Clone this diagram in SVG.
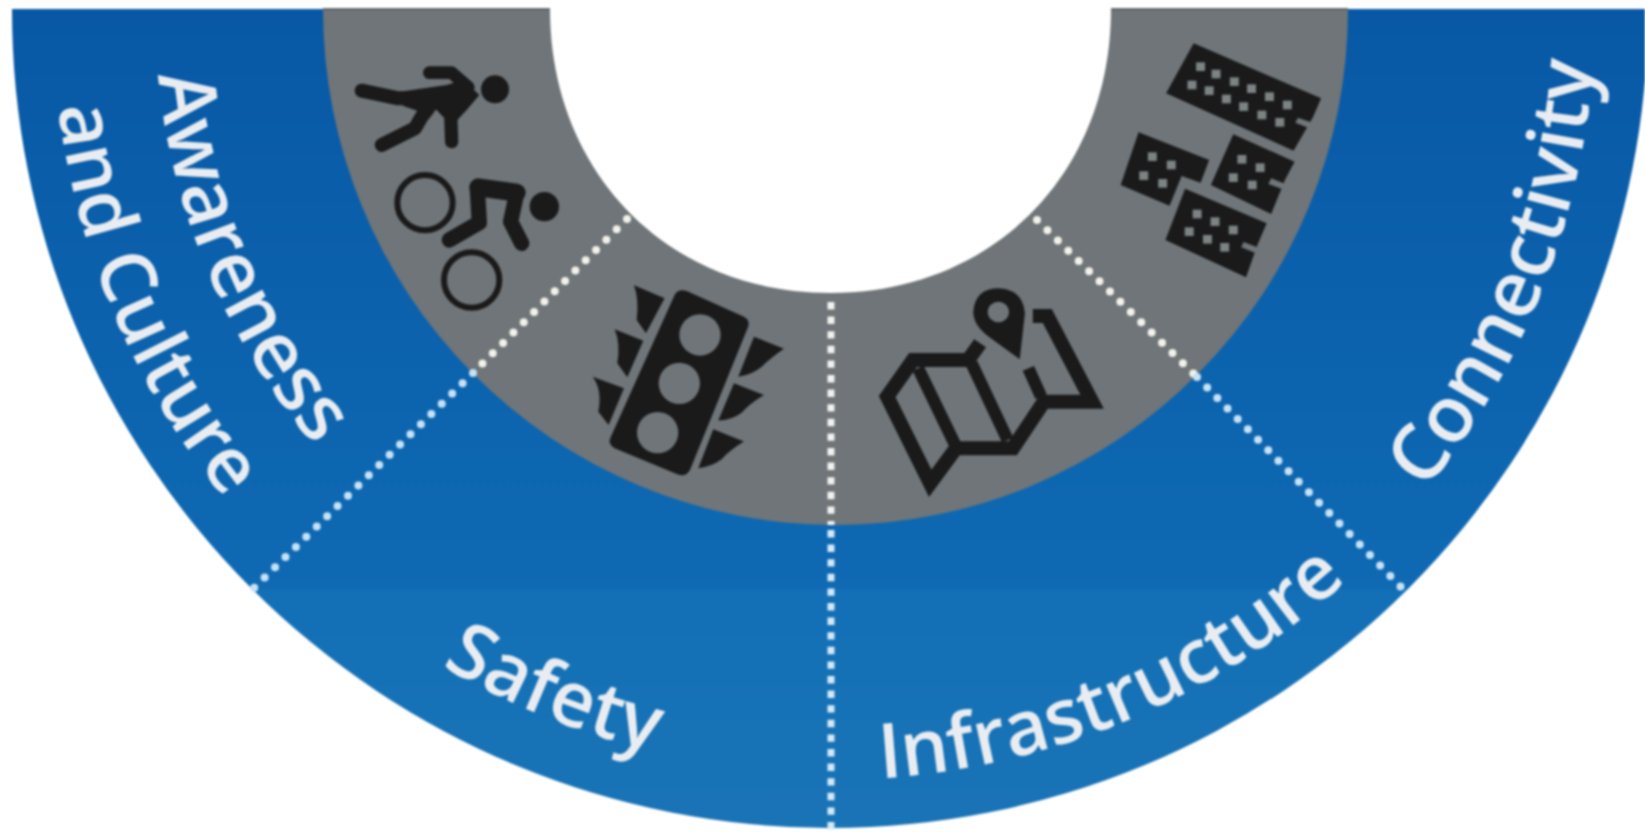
<svg xmlns="http://www.w3.org/2000/svg" width="1645" height="832" viewBox="0 0 1645 832">
<style>
.lbl{font-family:"Open Sans","Liberation Sans",sans-serif;font-weight:600;fill:#e9edf1;font-size:76px}
.ink{fill:#1a1a1b}
.line{fill:none;stroke:#1a1a1b;stroke-linecap:butt;stroke-linejoin:miter}
.rnd{fill:none;stroke:#1a1a1b;stroke-linecap:round;stroke-linejoin:round}
.win{fill:#7d8383}
.gray{fill:#6f7578}
</style>
<defs>
<filter id="soft" x="0" y="0" width="1645" height="832" filterUnits="userSpaceOnUse" color-interpolation-filters="sRGB"><feGaussianBlur stdDeviation="0.9"/></filter>
<linearGradient id="blue" x1="0" y1="0" x2="0" y2="832" gradientUnits="userSpaceOnUse">
<stop offset="0" stop-color="#0858a5"/><stop offset="0.708" stop-color="#0f6ab3"/><stop offset="0.71" stop-color="#1370b6"/><stop offset="1" stop-color="#1a74b6"/>
</linearGradient>
<path id="arcAwareness" d="M155,10 A675,675 0 0 0 1505,10"/>
<path id="arcCulture" d="M52,10 A778,778 0 0 0 1608,10"/>
<path id="arcSafety" d="M68,10 A762,762 0 0 0 1592,10"/>
<path id="arcInfra" d="M60,10 A770,770 0 0 0 1600,10"/>
<path id="arcConn" d="M65,10 A765,765 0 0 0 1595,10"/>
<clipPath id="page"><rect x="0" y="9" width="1645" height="823"/></clipPath>
</defs>
<rect width="1645" height="832" fill="#fff"/>
<g filter="url(#soft)">
<g id="ring" clip-path="url(#page)">
<circle cx="830" cy="10" r="818" fill="url(#blue)"/>
<ellipse cx="835.5" cy="9" rx="512.5" ry="516" fill="#6f7578"/>
<path d="M550,0V9C550,173 668,293 830.5,293C993,293 1111,173 1111,9V0Z" fill="#fff"/>
</g>
<path d="M323,9H550M1111,9H1348" stroke="#4d5153" stroke-width="1.5" fill="none"/>
<g id="connectors" fill="none">
<path d="M627,219L473,373" stroke="#f2f2ea" stroke-width="8" stroke-linecap="round" stroke-dasharray="0 14.6"/>
<path d="M473,373L252,590" stroke="#c6e2f5" stroke-width="8" stroke-linecap="round" stroke-dasharray="0 14.6"/>
<path d="M1037,220L1197,377" stroke="#f2f2ea" stroke-width="8" stroke-linecap="round" stroke-dasharray="0 14.6"/>
<path d="M1197,377L1404,590" stroke="#c6e2f5" stroke-width="8" stroke-linecap="round" stroke-dasharray="0 14.6"/>
<path d="M831,302V525" stroke="#f2f2f0" stroke-width="7" stroke-dasharray="7.4 7.2"/>
<path d="M831,530V832" stroke="#d5e8f5" stroke-width="7" stroke-dasharray="7.4 7.2"/>
</g>
<g id="pedestrian-cyclist" transform="translate(320 0) scale(.3333)">
<circle class="ink" cx="525" cy="268" r="42"/>
<path class="rnd" stroke-width="42" d="M125,272L235,295L300,295"/>
<path class="rnd" stroke-width="38" d="M328,218H395L445,262"/>
<path class="ink" d="M240,275L380,255L430,240L478,285L440,330L410,362L370,352L350,330L300,335L250,318Z"/>
<path class="rnd" stroke-width="42" d="M325,325L305,350L285,385L185,435"/>
<path class="rnd" stroke-width="40" d="M392,340L395,425"/>
<circle class="ink" cx="673" cy="620" r="44"/>
<circle cx="315" cy="608" r="83" fill="none" stroke="#1a1a1b" stroke-width="18"/>
<circle cx="455" cy="840" r="83" fill="none" stroke="#1a1a1b" stroke-width="18"/>
<path class="rnd" stroke-width="54" d="M475,562L590,578"/>
<path class="rnd" stroke-width="46" d="M472,565L478,668L388,720"/>
<path class="rnd" stroke-width="46" d="M590,580L572,665L605,730"/>
</g>
<g id="traffic-light" transform="translate(320 0) scale(.3333)">
<path class="ink" d="M1100,873L1272,950Q1292,960 1284,982L1110,1410Q1098,1432 1074,1424L884,1345Q862,1333 872,1312L1064,885Q1074,866 1100,873Z"/>
<circle class="gray" cx="1140" cy="1005" r="62"/>
<circle class="gray" cx="1078" cy="1150" r="62"/>
<circle class="gray" cx="1013" cy="1298" r="62"/>
<g class="ink">
<path d="M942,856L1034,895L978,1000L950,960Q958,900 942,856Z"/>
<path d="M884,988L970,1022L922,1132L892,1090Q902,1030 884,988Z"/>
<path d="M818,1130L912,1165L866,1275L835,1235Q848,1170 818,1130Z"/>
<path d="M1302,1010L1392,1046Q1350,1075 1325,1100Q1295,1125 1255,1130Z"/>
<path d="M1242,1150L1332,1185Q1290,1210 1265,1238Q1235,1260 1195,1262Z"/>
<path d="M1180,1288L1272,1325Q1230,1350 1205,1378Q1175,1400 1135,1405Z"/>
</g>
</g>
<g id="map" transform="translate(820 0) scale(.3444 .3333)">
<path class="line" stroke-width="42" d="M465,1030L430,1080H270L195,1190L320,1450L395,1345H560L650,1205H790L660,948H618"/>
<path class="line" stroke-width="36" d="M285,1105L395,1340M440,1090L545,1320M605,1105L642,1190"/>
<path class="ink" fill-rule="evenodd" d="M580,1078L490,1010Q445,975 445,935Q450,865 520,865Q590,870 595,940ZM518,905A31,31 0 1 0 518.1,967A31,31 0 1 0 518,905Z"/>
</g>
<g id="buildings" transform="translate(820 0) scale(.3444 .3333)">
<path class="ink" d="M1085,130L1455,295L1432,350L1375,452L1005,280Z"/>
<path class="ink" d="M925,397L1130,480L1105,548L1050,528L1015,617L873,555Z"/>
<path class="ink" d="M1200,403L1378,485L1350,540L1310,642L1135,555Z"/>
<path class="ink" d="M1060,566L1297,670L1270,735L1237,832L1003,720Z"/>
<g class="win">
<rect x="1092" y="187" width="26" height="26"/><rect x="1137" y="209" width="26" height="26"/><rect x="1190" y="232" width="26" height="26"/><rect x="1240" y="253" width="26" height="26"/><rect x="1292" y="277" width="26" height="26"/><rect x="1344" y="302" width="26" height="26"/>
<rect x="1067" y="242" width="26" height="26"/><rect x="1117" y="259" width="26" height="26"/><rect x="1167" y="284" width="26" height="26"/><rect x="1217" y="307" width="26" height="26"/><rect x="1270" y="332" width="26" height="26"/><rect x="1322" y="354" width="26" height="26"/>
<rect x="952" y="457" width="26" height="26"/><rect x="1007" y="482" width="26" height="26"/><rect x="927" y="514" width="26" height="26"/><rect x="982" y="537" width="26" height="26"/>
<rect x="1212" y="465" width="26" height="26"/><rect x="1265" y="490" width="26" height="26"/><rect x="1187" y="520" width="26" height="26"/><rect x="1242" y="542" width="26" height="26"/>
<rect x="1082" y="629" width="26" height="26"/><rect x="1134" y="652" width="26" height="26"/><rect x="1187" y="677" width="26" height="26"/><rect x="1059" y="682" width="26" height="26"/><rect x="1112" y="705" width="26" height="26"/><rect x="1162" y="729" width="26" height="26"/>
</g>
<path class="gray" d="M1388,353L1430,368L1422,385L1380,368ZM1310,535L1352,552L1344,568L1302,552ZM1230,726L1270,742L1263,758L1223,742Z"/>
</g>
<g id="awareness-culture">
<text class="lbl" style="font-size:78px"><textPath href="#arcAwareness" startOffset="65">Awareness</textPath></text>
<text class="lbl"><textPath href="#arcCulture" startOffset="97">and Culture</textPath></text>
</g>
<g id="safety"><text class="lbl" style="font-size:77px"><textPath href="#arcSafety" startOffset="789">Safety</textPath></text></g>
<g id="infrastructure"><text class="lbl"><textPath href="#arcInfra" startOffset="1260">Infrastructure</textPath></text></g>
<g id="connectivity"><text class="lbl" style="font-size:78px"><textPath href="#arcConn" startOffset="1883">Connectivity</textPath></text></g>
</g>
</svg>
